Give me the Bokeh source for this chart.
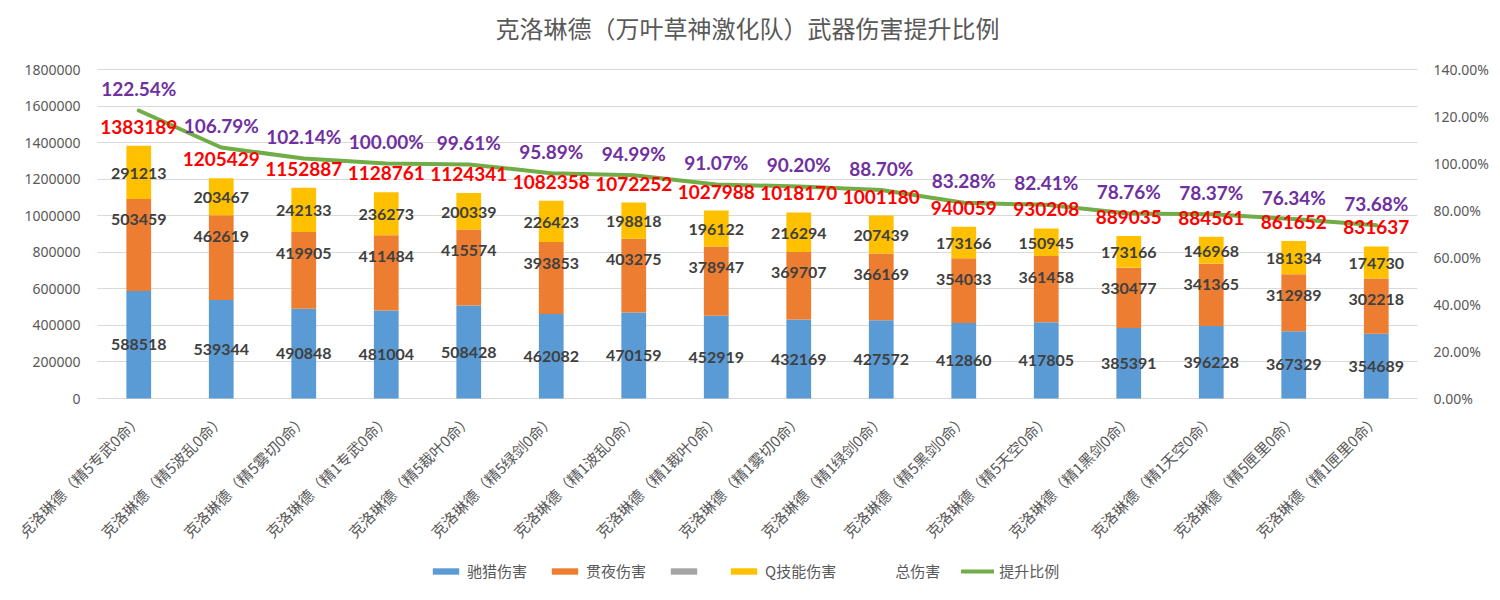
import math
from bokeh.plotting import figure
from bokeh.core.properties import value
from bokeh.models import (ColumnDataSource, FactorRange, Range1d, LinearAxis, FixedTicker,
                          NumeralTickFormatter, LabelSet, Legend, LegendItem)
from bokeh.embed import file_html
from bokeh.resources import INLINE

categories = [
    "克洛琳德（精5专武0命）", "克洛琳德（精5波乱0命）", "克洛琳德（精5雾切0命）", "克洛琳德（精1专武0命）",
    "克洛琳德（精5裁叶0命）", "克洛琳德（精5绿剑0命）", "克洛琳德（精1波乱0命）", "克洛琳德（精1裁叶0命）",
    "克洛琳德（精1雾切0命）", "克洛琳德（精1绿剑0命）", "克洛琳德（精5黑剑0命）", "克洛琳德（精5天空0命）",
    "克洛琳德（精1黑剑0命）", "克洛琳德（精1天空0命）", "克洛琳德（精5匣里0命）", "克洛琳德（精1匣里0命）",
]
chilie_damage = [588518, 539344, 490848, 481004, 508428, 462082, 470159, 452919,
                 432169, 427572, 412860, 417805, 385391, 396228, 367329, 354689]
guanye_damage = [503459, 462619, 419905, 411484, 415574, 393853, 403275, 378947,
                 369707, 366169, 354033, 361458, 330477, 341365, 312989, 302218]
unnamed_series = [0, 0, 0, 0, 0, 0, 0, 0, 0, 0, 0, 0, 0, 0, 0, 0]
q_damage = [291213, 203467, 242133, 236273, 200339, 226423, 198818, 196122,
            216294, 207439, 173166, 150945, 173166, 146968, 181334, 174730]
total_damage = [1383189, 1205429, 1152887, 1128761, 1124341, 1082358, 1072252, 1027988,
                1018170, 1001180, 940059, 930208, 889035, 884561, 861652, 831637]
ratio_pct = [122.54, 106.79, 102.14, 100.00, 99.61, 95.89, 94.99, 91.07,
             90.20, 88.70, 83.28, 82.41, 78.76, 78.37, 76.34, 73.68]
left_ticks = [0, 200000, 400000, 600000, 800000, 1000000, 1200000, 1400000, 1600000, 1800000]
right_ticks = [0.0, 0.2, 0.4, 0.6, 0.8, 1.0, 1.2, 1.4]

title_text = "克洛琳德（万叶草神激化队）武器伤害提升比例"
series_names = ["驰猎伤害", "贯夜伤害", " ", "Q技能伤害", "总伤害", "提升比例"]

BLUE, ORANGE, GRAY, YELLOW, GREEN = "#5B9BD5", "#ED7D31", "#A5A5A5", "#FFC000", "#70AD47"
CJK = "Noto Sans CJK SC"
NUM = "Noto Sans"
BOLDNUM = "Lato"
AXIS_TXT = "#595959"
GRID = "#D9D9D9"

# layout geometry (screen pixels)
CAT_PX = 82.5                       # width of one category slot
PLOT_LEFT, PLOT_RIGHT = 97, 1417    # bar area
CANVAS_LEFT_PAD = 75                # extra frame room on each side for axis texts
FRAME_TOP, TOP_TICK_PX, ZERO_PX, FRAME_BOTTOM = 50, 69, 398, 590
LEFT_MAX, RIGHT_MAX = left_ticks[-1], right_ticks[-1]
plot_px = ZERO_PX - TOP_TICK_PX
below_frac = (FRAME_BOTTOM - ZERO_PX) / plot_px
above_frac = (ZERO_PX - FRAME_TOP) / plot_px
frame_left = PLOT_LEFT - CANVAS_LEFT_PAD
frame_w = (PLOT_RIGHT - PLOT_LEFT) + 2 * CANVAS_LEFT_PAD

src = ColumnDataSource(dict(
    x=categories,
    blue=chilie_damage,
    orange=guanye_damage,
    gray=unnamed_series,
    yellow=q_damage,
    total=total_damage,
    ratio=[v / 100 for v in ratio_pct],
    blue_mid=[b / 2 for b in chilie_damage],
    orange_top=[b + o for b, o in zip(chilie_damage, guanye_damage)],
    yellow_mid=[b + o + q / 2 for b, o, q in zip(chilie_damage, guanye_damage, q_damage)],
    blue_txt=[str(v) for v in chilie_damage],
    orange_txt=[str(v) for v in guanye_damage],
    yellow_txt=[str(v) for v in q_damage],
    total_txt=[str(v) for v in total_damage],
    ratio_txt=[f"{v:.2f}%" for v in ratio_pct],
))

x_range = FactorRange(*categories, range_padding=CANVAS_LEFT_PAD / CAT_PX,
                      range_padding_units="absolute")

p = figure(frame_width=frame_w, frame_height=FRAME_BOTTOM - FRAME_TOP,
           x_range=x_range,
           y_range=Range1d(-LEFT_MAX * below_frac, LEFT_MAX * above_frac),
           output_backend="svg", toolbar_location=None,
           min_border_left=frame_left, min_border_right=0, min_border_top=FRAME_TOP,
           min_border_bottom=0)
p.extra_y_ranges = {"pct": Range1d(-RIGHT_MAX * below_frac, RIGHT_MAX * above_frac)}
p.outline_line_color = None

# title
p.title.text = title_text
p.title.align = "left"
p.title.offset = 495 - frame_left
p.title.text_font = CJK
p.title.text_font_size = "24px"
p.title.text_font_style = "normal"
p.title.text_color = AXIS_TXT
p.title.standoff = 12

# stacked bars
bars = p.vbar_stack(["blue", "orange", "gray", "yellow"], x="x", width=0.3,
                    fill_color=[BLUE, ORANGE, GRAY, YELLOW], line_color=None, source=src)
total_r = p.line(x="x", y="total", line_alpha=0, source=src)
ratio_r = p.line(x="x", y="ratio", y_range_name="pct", line_color=GREEN, line_width=4,
                 line_join="round", line_cap="round", source=src)

# left axis: fixed at the left edge of the first category; its ticks form the gridlines
p.yaxis.fixed_location = 0
p.yaxis.level = "underlay"
p.yaxis.ticker = FixedTicker(ticks=left_ticks)
p.yaxis.formatter = NumeralTickFormatter(format="0")
p.yaxis.axis_line_color = None
p.yaxis.major_tick_line_color = GRID
p.yaxis.major_tick_line_width = 1
p.yaxis.minor_tick_line_color = None
p.yaxis.major_tick_out = 0
p.yaxis.major_tick_in = PLOT_RIGHT - PLOT_LEFT
p.yaxis.major_label_standoff = 17
p.yaxis.major_label_text_font = NUM
p.yaxis.major_label_text_font_size = "14px"
p.yaxis.major_label_text_color = AXIS_TXT

ax_r = LinearAxis(y_range_name="pct", ticker=FixedTicker(ticks=right_ticks),
                  formatter=NumeralTickFormatter(format="0.00%"),
                  fixed_location=len(categories))
ax_r.axis_line_color = None
ax_r.major_tick_line_color = None
ax_r.minor_tick_line_color = None
ax_r.major_tick_out = 0
ax_r.major_tick_in = 0
ax_r.major_label_standoff = 16
ax_r.major_label_text_font = NUM
ax_r.major_label_text_font_size = "14px"
ax_r.major_label_text_color = AXIS_TXT
p.add_layout(ax_r, "right")

p.xaxis.fixed_location = 0
p.xaxis.major_label_orientation = math.pi / 4
p.xaxis.axis_line_color = None
p.xaxis.major_tick_line_color = None
p.xaxis.minor_tick_line_color = None
p.xaxis.major_tick_out = 0
p.xaxis.major_tick_in = 0
p.xaxis.major_label_standoff = 18
p.xaxis.major_label_text_font = CJK
p.xaxis.major_label_text_font_size = "15px"
p.xaxis.major_label_text_color = AXIS_TXT

p.xgrid.grid_line_color = None
p.ygrid.grid_line_color = None

# data labels
common = dict(source=src, text_align="center", text_baseline="middle",
              text_font=value(BOLDNUM), text_font_style="bold")
p.add_layout(LabelSet(x="x", y="blue_mid", text="blue_txt", text_color="#404040",
                      text_font_size="16px", **common))
p.add_layout(LabelSet(x="x", y="orange_top", text="orange_txt", text_color="#404040", y_offset=-21,
                      text_font_size="16px", **common))
p.add_layout(LabelSet(x="x", y="yellow_mid", text="yellow_txt", text_color="#404040", y_offset=-1,
                      text_font_size="16px", **common))
p.add_layout(LabelSet(x="x", y="total", text="total_txt", text_color="#FF0000", y_offset=19,
                      text_font_size="19px", **common))
p.add_layout(LabelSet(x="x", y="ratio", text="ratio_txt", text_color="#7030A0", y_offset=22,
                      y_range_name="pct", text_font_size="19px", **common))

# legend
items = [LegendItem(label=series_names[0], renderers=[bars[0]]),
         LegendItem(label=series_names[1], renderers=[bars[1]]),
         LegendItem(label=series_names[2], renderers=[bars[2]]),
         LegendItem(label=series_names[3], renderers=[bars[3]]),
         LegendItem(label=series_names[4], renderers=[total_r]),
         LegendItem(label=series_names[5], renderers=[ratio_r])]
legend = Legend(items=items, orientation="horizontal", location=(429 - frame_left, 9),
                glyph_width=33, glyph_height=8, label_standoff=5, spacing=21,
                label_width=1, label_height=16,
                label_text_font=CJK, label_text_font_size="15px", label_text_color=AXIS_TXT,
                border_line_color=None, background_fill_alpha=0, padding=0, margin=0)
p.add_layout(legend, "center")

open("out.html", "w").write(file_html(p, INLINE))
